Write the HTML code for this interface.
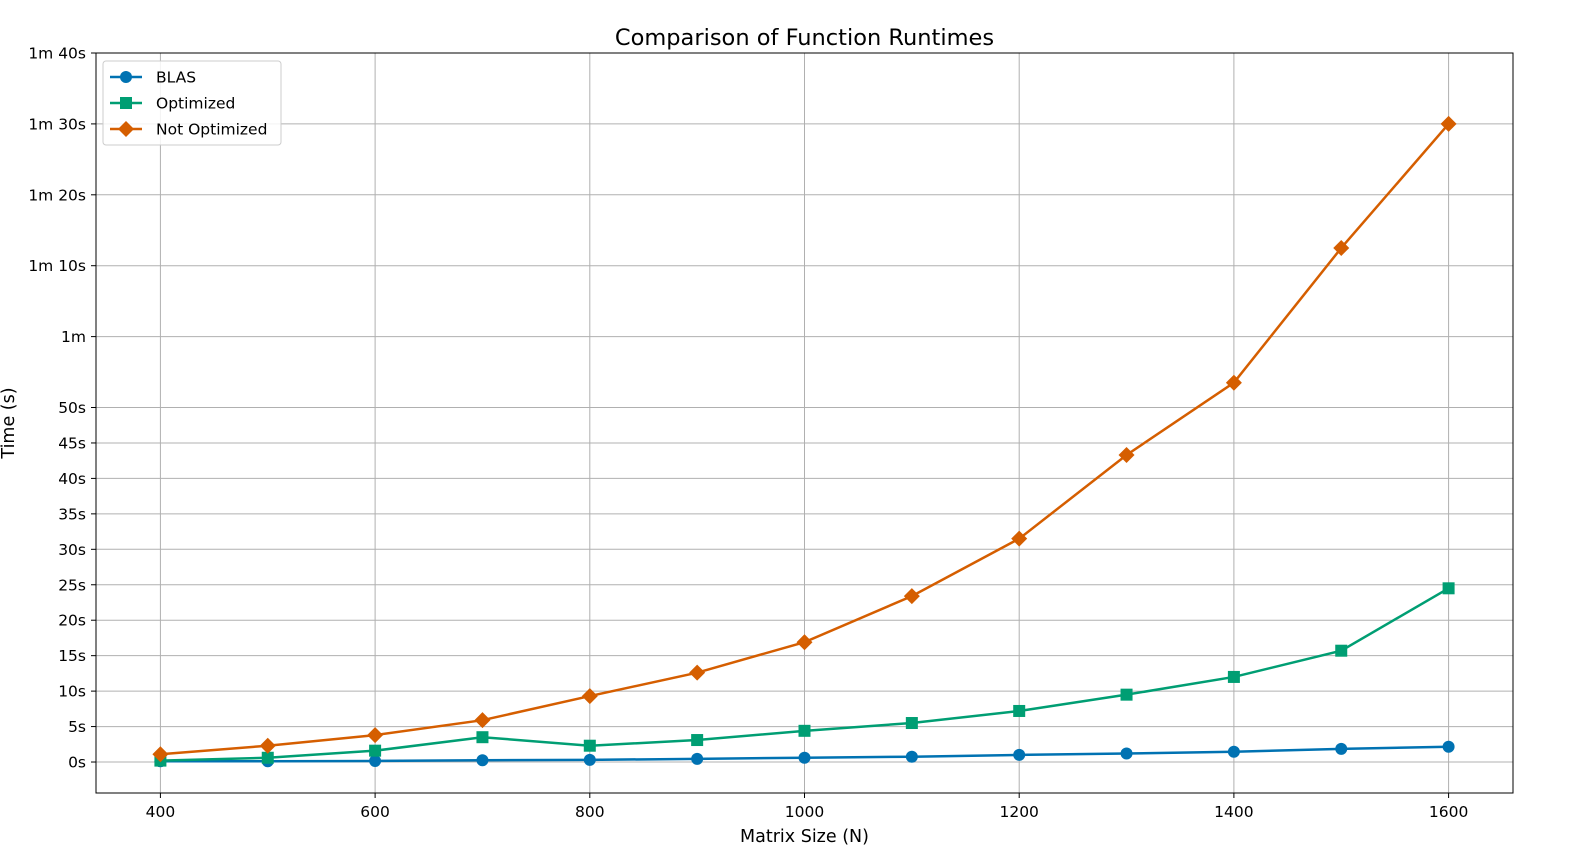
<!DOCTYPE html>
<html><head><meta charset="utf-8"><style>
html,body{margin:0;padding:0;background:#fff;overflow:hidden;width:1581px;height:852px;}
svg{display:block;position:absolute;left:0;top:0;font-family:"DejaVu Sans","Liberation Sans",sans-serif;}
</style></head><body>
<svg id="chart" width="1581" height="852" viewBox="0 0 1581 852"></svg>
<script>
const sizes=[400,500,600,700,800,900,1000,1100,1200,1300,1400,1500,1600];
const blas=[0.1,0.1,0.15,0.25,0.3,0.45,0.6,0.75,1.0,1.2,1.45,1.85,2.15];
const optimized=[0.2,0.6,1.6,3.5,2.3,3.1,4.4,5.5,7.2,9.5,12.0,15.7,24.5];
const notOptimized=[1.1,2.3,3.8,5.9,9.3,12.6,16.9,23.4,31.5,43.3,53.5,72.5,90];
const xTicks=[400,600,800,1000,1200,1400,1600];
const yTicks=[0,5,10,15,20,25,30,35,40,45,50,60,70,80,90,100];
const yTickLabels=["0s","5s","10s","15s","20s","25s","30s","35s","40s","45s","50s","1m","1m 10s","1m 20s","1m 30s","1m 40s"];

const NS="http://www.w3.org/2000/svg";
const svg=document.getElementById('chart');
const L=96,R=1513,T=53,B=793;
const xMin=340,xMax=1660,yMin=-4.37,yMax=100;
const X=v=>L+(v-xMin)/(xMax-xMin)*(R-L);
const Y=v=>B-(v-yMin)/(yMax-yMin)*(B-T);
function el(tag,attrs,parent){const e=document.createElementNS(NS,tag);for(const k in attrs)e.setAttribute(k,attrs[k]);(parent||svg).appendChild(e);return e;}

const grid=el('g',{});


xTicks.forEach(t=>{
  const l=el('line',{x1:X(t),x2:X(t),y1:T,y2:B,stroke:'#b0b0b0','stroke-width':1},grid);
  
  
  const tk=el('line',{x1:X(t),x2:X(t),y1:B,y2:B+5,stroke:'#000'});
  
  
  const tx=el('text',{x:X(t),y:B+24,'text-anchor':'middle','font-size':15.5});
  tx.textContent=t;
  
  
});
yTicks.forEach((t,i)=>{
  const l=el('line',{x1:L,x2:R,y1:Y(t),y2:Y(t),stroke:'#b0b0b0','stroke-width':1},grid);
  
  
  const tk=el('line',{x1:L-5,x2:L,y1:Y(t),y2:Y(t),stroke:'#000'});
  
  
  const tx=el('text',{x:L-10,y:Y(t)+5.5,'text-anchor':'end','font-size':15.5});
  tx.textContent=yTickLabels[i];
  
  
});
const frame=el('rect',{x:L,y:T,width:R-L,height:B-T,fill:'none',stroke:'#000','stroke-width':1});



function marker(g,shape,cx,cy,color){
  let m;
  if(shape==='circle')m=el('circle',{cx:cx,cy:cy,r:6,fill:color},g);
  else if(shape==='square')m=el('rect',{x:cx-6,y:cy-6,width:12,height:12,fill:color},g);
  else m=el('polygon',{points:`${cx},${cy-8} ${cx+8},${cy} ${cx},${cy+8} ${cx-8},${cy}`,fill:color},g);
  return m;
}
const series=[
  {name:'BLAS',data:blas,color:'#0072b2',shape:'circle',id:'blas'},
  {name:'Optimized',data:optimized,color:'#009e73',shape:'square',id:'optimized'},
  {name:'Not Optimized',data:notOptimized,color:'#d55e00',shape:'diamond',id:'not-optimized'}
];
series.forEach(s=>{
  const g=el('g',{});
  
  
  const pts=sizes.map((x,i)=>X(x)+','+Y(s.data[i])).join(' ');
  const pl=el('polyline',{points:pts,fill:'none',stroke:s.color,'stroke-width':2.5},g);
  
  
  sizes.forEach((x,i)=>{
    const m=marker(g,s.shape,X(x),Y(s.data[i]),s.color);
    
    
  });
});

const leg=el('g',{});


const lb=el('rect',{x:103,y:61,width:178,height:84,rx:3,fill:'#fff','fill-opacity':0.85,stroke:'#ccc'},leg);


series.forEach((s,i)=>{
  const y=77+i*26;
  const ln=el('line',{x1:110,x2:142,y1:y,y2:y,stroke:s.color,'stroke-width':2.5},leg);
  
  
  const m=marker(leg,s.shape,126,y,s.color);
  
  
  const t=el('text',{x:156,y:y+5.5,'font-size':15.5},leg);
  t.textContent=s.name;
  
  
});

const title=el('text',{x:(L+R)/2,y:45,'text-anchor':'middle','font-size':22.5});
title.textContent='Comparison of Function Runtimes';


const xt=el('text',{x:(L+R)/2,y:842,'text-anchor':'middle','font-size':17.5});
xt.textContent='Matrix Size (N)';


const yt=el('text',{x:14,y:(T+B)/2,'text-anchor':'middle','font-size':17.5,transform:`rotate(-90 14 ${(T+B)/2})`});
yt.textContent='Time (s)';


</script>
</body></html>
